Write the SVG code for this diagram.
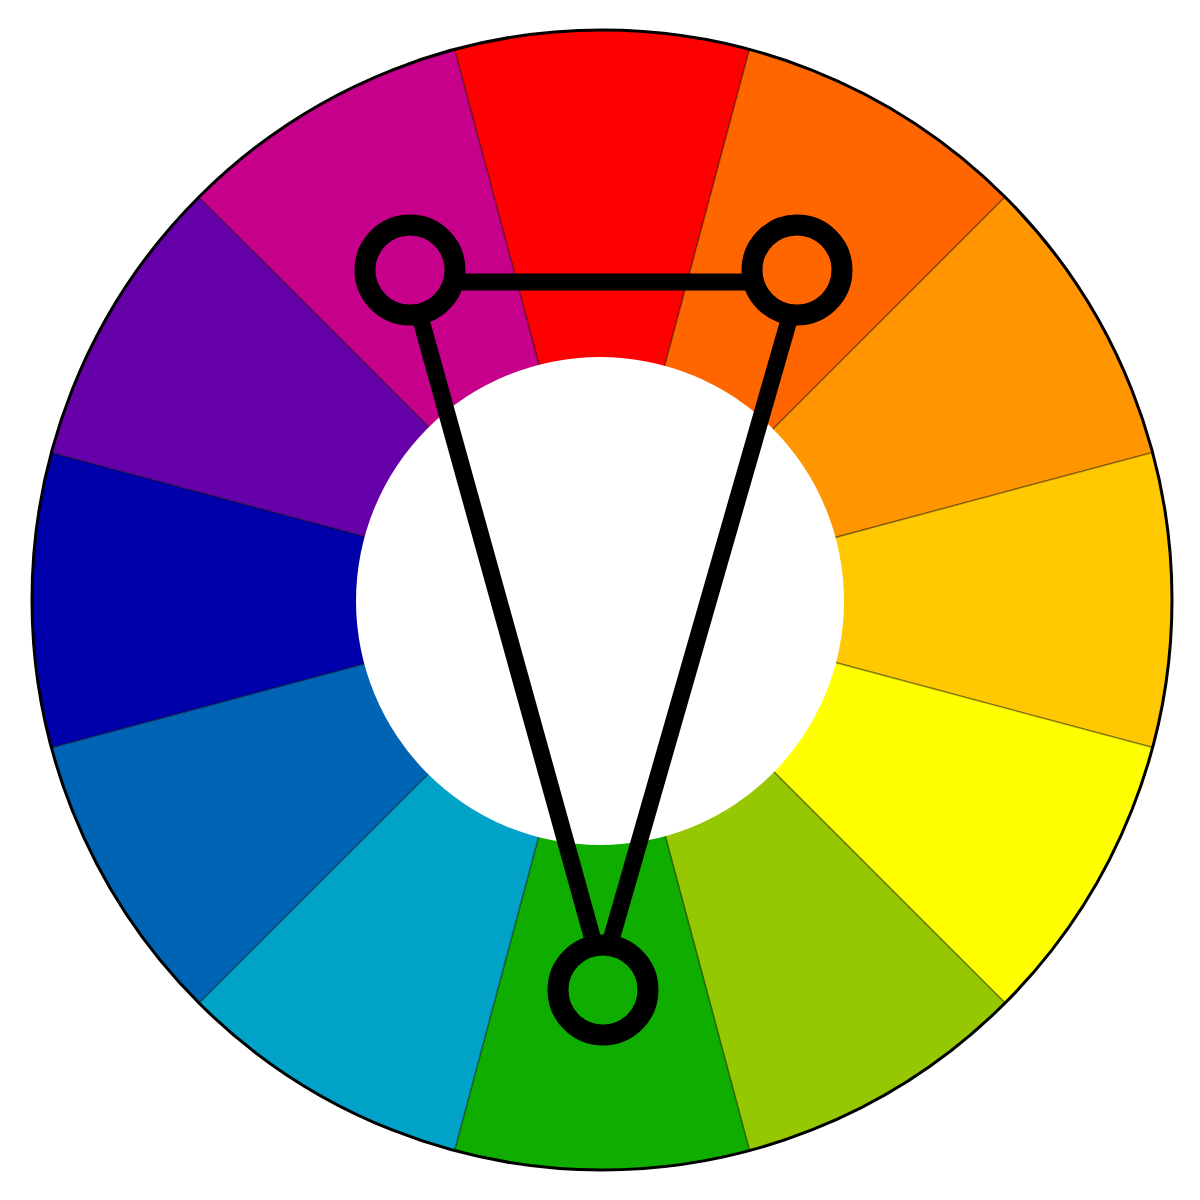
<svg xmlns="http://www.w3.org/2000/svg" width="1200" height="1200" viewBox="0 0 1200 1200">
<style>
.seg{stroke:#000;stroke-opacity:0.35;stroke-width:1.5;stroke-linejoin:round}
.mark{fill:none;stroke:#000;stroke-width:21}
.conn{stroke:#000;stroke-width:17;stroke-linecap:butt;fill:none}
</style>
<rect width="1200" height="1200" fill="#fff"/>
<g id="wheel">
<path class="seg" fill="#FF0000" d="M602,600 L454.47,49.42 A570,570 0 0 1 749.53,49.42 Z"/>
<path class="seg" fill="#FF6600" d="M602,600 L749.53,49.42 A570,570 0 0 1 1005.05,196.95 Z"/>
<path class="seg" fill="#FF9600" d="M602,600 L1005.05,196.95 A570,570 0 0 1 1152.58,452.47 Z"/>
<path class="seg" fill="#FFC800" d="M602,600 L1152.58,452.47 A570,570 0 0 1 1152.58,747.53 Z"/>
<path class="seg" fill="#FFFF00" d="M602,600 L1152.58,747.53 A570,570 0 0 1 1005.05,1003.05 Z"/>
<path class="seg" fill="#95C800" d="M602,600 L1005.05,1003.05 A570,570 0 0 1 749.53,1150.58 Z"/>
<path class="seg" fill="#0FAD00" d="M602,600 L749.53,1150.58 A570,570 0 0 1 454.47,1150.58 Z"/>
<path class="seg" fill="#00A3C7" d="M602,600 L454.47,1150.58 A570,570 0 0 1 198.95,1003.05 Z"/>
<path class="seg" fill="#0064B5" d="M602,600 L198.95,1003.05 A570,570 0 0 1 51.42,747.53 Z"/>
<path class="seg" fill="#0000AA" d="M602,600 L51.42,747.53 A570,570 0 0 1 51.42,452.47 Z"/>
<path class="seg" fill="#6600A8" d="M602,600 L51.42,452.47 A570,570 0 0 1 198.95,196.95 Z"/>
<path class="seg" fill="#C6008A" d="M602,600 L198.95,196.95 A570,570 0 0 1 454.47,49.42 Z"/>
<circle cx="602" cy="600" r="570" fill="none" stroke="#000" stroke-width="3"/>
<circle cx="600" cy="601" r="244" fill="#fff"/>
</g>
<g id="connectors">
<line class="conn" x1="462" y1="282" x2="746" y2="282"/>
<line class="conn" x1="421" y1="320" x2="593" y2="940"/>
<line class="conn" x1="789" y1="320" x2="611" y2="940"/>
</g>
<g id="node-magenta"><circle class="mark" cx="410" cy="270" r="45"/></g>
<g id="node-orange"><circle class="mark" cx="797" cy="270" r="45"/></g>
<g id="node-green"><circle class="mark" cx="603" cy="990" r="45"/></g>
</svg>
